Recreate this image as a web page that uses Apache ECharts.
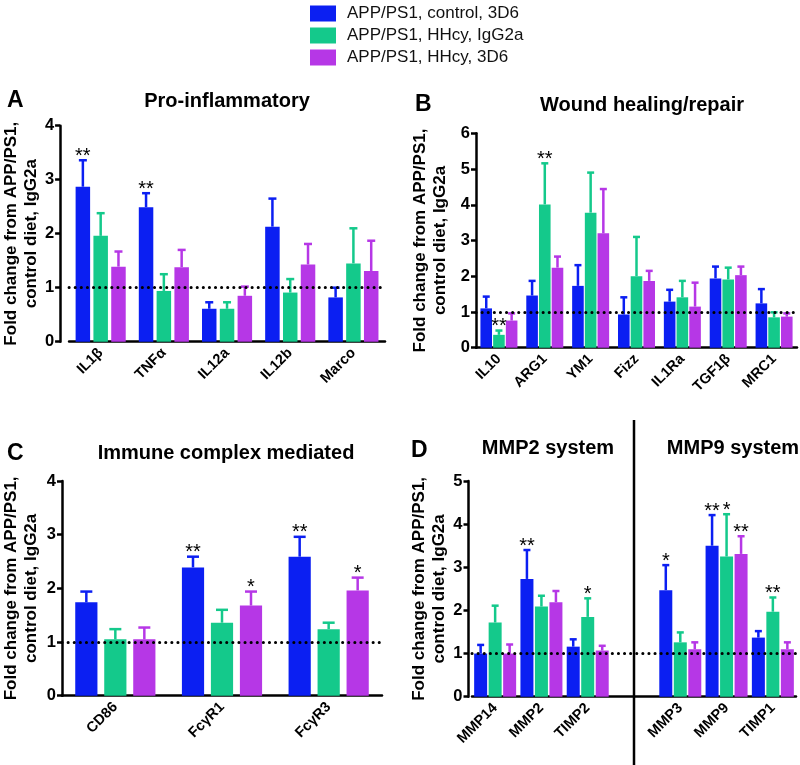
<!DOCTYPE html>
<html>
<head>
<meta charset="utf-8">
<script src="https://cdn.jsdelivr.net/npm/echarts@6/dist/echarts.min.js"></script>
<style>
html,body{margin:0;padding:0;background:#fff;}
#chart{width:800px;height:765px;}
</style>
</head>
<body>
<div id="chart"></div>
<script>
// ---------- DATA ----------
const seriesNames = ['APP/PS1, control, 3D6', 'APP/PS1, HHcy, IgG2a', 'APP/PS1, HHcy, 3D6'];

// Panel A: Pro-inflammatory
const catsA = ['IL1β', 'TNFα', 'IL12a', 'IL12b', 'Marco'];
const ctrl3D6_A = [2.87, 2.49, 0.61, 2.13, 0.82];
const hhcyIgG_A = [1.96, 0.94, 0.61, 0.91, 1.45];
const hhcy3D6_A = [1.39, 1.38, 0.85, 1.43, 1.31];
const semCtrl3D6_A = [0.49, 0.26, 0.12, 0.52, 0.18];
const semHhcyIgG_A = [0.42, 0.31, 0.12, 0.25, 0.65];
const semHhcy3D6_A = [0.28, 0.32, 0.17, 0.38, 0.56];
const sigCtrl3D6_A = ['**', '**', '', '', ''];
const sigHhcyIgG_A = ['', '', '', '', ''];
const sigHhcy3D6_A = ['', '', '', '', ''];

// Panel B: Wound healing/repair
const catsB = ['IL10', 'ARG1', 'YM1', 'Fizz', 'IL1Ra', 'TGF1β', 'MRC1'];
const ctrl3D6_B = [1.10, 1.46, 1.73, 0.93, 1.29, 1.94, 1.24];
const hhcyIgG_B = [0.36, 4.01, 3.78, 2.00, 1.41, 1.91, 0.85];
const hhcy3D6_B = [0.76, 2.24, 3.20, 1.87, 1.15, 2.03, 0.87];
const semCtrl3D6_B = [0.33, 0.41, 0.58, 0.48, 0.33, 0.33, 0.40];
const semHhcyIgG_B = [0.12, 1.15, 1.12, 1.10, 0.46, 0.33, 0.14];
const semHhcy3D6_B = [0.20, 0.31, 1.24, 0.28, 0.67, 0.24, 0.09];
const sigCtrl3D6_B = ['', '', '', '', '', '', ''];
const sigHhcyIgG_B = ['**', '**', '', '', '', '', ''];
const sigHhcy3D6_B = ['', '', '', '', '', '', ''];

// Panel C: Immune complex mediated
const catsC = ['CD86', 'FcγR1', 'FcγR3'];
const ctrl3D6_C = [1.74, 2.39, 2.59];
const hhcyIgG_C = [1.05, 1.36, 1.24];
const hhcy3D6_C = [1.05, 1.68, 1.96];
const semCtrl3D6_C = [0.20, 0.20, 0.37];
const semHhcyIgG_C = [0.19, 0.24, 0.12];
const semHhcy3D6_C = [0.22, 0.26, 0.24];
const sigCtrl3D6_C = ['', '**', '**'];
const sigHhcyIgG_C = ['', '', ''];
const sigHhcy3D6_C = ['', '*', '*'];

// Panel D: MMP2 system | MMP9 system ('' = separator slot)
const catsD = ['MMP14', 'MMP2', 'TIMP2', '', 'MMP3', 'MMP9', 'TIMP1'];
const ctrl3D6_D = [1.00, 2.73, 1.16, null, 2.47, 3.50, 1.37];
const hhcyIgG_D = [1.72, 2.09, 1.85, null, 1.26, 3.25, 1.97];
const hhcy3D6_D = [1.00, 2.19, 1.07, null, 1.10, 3.31, 1.10];
const semCtrl3D6_D = [0.20, 0.67, 0.17, null, 0.58, 0.71, 0.15];
const semHhcyIgG_D = [0.39, 0.25, 0.43, null, 0.23, 0.98, 0.33];
const semHhcy3D6_D = [0.21, 0.26, 0.11, null, 0.16, 0.41, 0.16];
const sigCtrl3D6_D = ['', '**', '', '', '*', '**', ''];
const sigHhcyIgG_D = ['', '', '*', '', '', '*', '**'];
const sigHhcy3D6_D = ['', '', '', '', '', '**', ''];

const yMaxA = 4, yMaxB = 6, yMaxC = 4, yMaxD = 5;
const refLine = 1;

// ---------- STYLE ----------
const COLORS = ['#0b1ff2', '#14c98b', '#b637e6'];
const FONT = '"Liberation Sans", Arial, Helvetica, sans-serif';

const panels = [
  { cats: catsA, means: [ctrl3D6_A, hhcyIgG_A, hhcy3D6_A], sems: [semCtrl3D6_A, semHhcyIgG_A, semHhcy3D6_A],
    sigs: [sigCtrl3D6_A, sigHhcyIgG_A, sigHhcy3D6_A], max: yMaxA,
    grid: { left: 62, right: 415, top: 125.7, height: 216 }, yOffset: 9, nameGap: 12,
    bw: 14.5, gap: 3.3, cap: 8 },
  { cats: catsB, means: [ctrl3D6_B, hhcyIgG_B, hhcy3D6_B], sems: [semCtrl3D6_B, semHhcyIgG_B, semHhcy3D6_B],
    sigs: [sigCtrl3D6_B, sigHhcyIgG_B, sigHhcy3D6_B], max: yMaxB,
    grid: { left: 476, right: 3, top: 133.3, height: 214.4 }, yOffset: 0, nameGap: 26,
    bw: 11.6, gap: 1.1, cap: 7 },
  { cats: catsC, means: [ctrl3D6_C, hhcyIgG_C, hhcy3D6_C], sems: [semCtrl3D6_C, semHhcyIgG_C, semHhcy3D6_C],
    sigs: [sigCtrl3D6_C, sigHhcyIgG_C, sigHhcy3D6_C], max: yMaxC,
    grid: { left: 62, right: 418, top: 481, height: 214.7 }, yOffset: 0, nameGap: 21,
    bw: 22.2, gap: 6.8, cap: 12 },
  { cats: catsD, means: [ctrl3D6_D, hhcyIgG_D, hhcy3D6_D], sems: [semCtrl3D6_D, semHhcyIgG_D, semHhcy3D6_D],
    sigs: [sigCtrl3D6_D, sigHhcyIgG_D, sigHhcy3D6_D], max: yMaxD,
    grid: { left: 472, right: 4, top: 481, height: 215.7 }, yOffset: 3.5, nameGap: 17,
    bw: 13, gap: 1.5, cap: 7 }
];

const grids = [], xAxes = [], yAxes = [], series = [];

panels.forEach((p, pi) => {
  grids.push(Object.assign({ containLabel: false }, p.grid));
  xAxes.push({
    type: 'category', gridIndex: pi, data: p.cats,
    axisLine: { lineStyle: { color: '#000', width: 2.5 } },
    axisTick: { alignWithLabel: true, length: 7, lineStyle: { color: '#000', width: 2.5 },
      interval: (idx, val) => val !== '' },
    axisLabel: { interval: 0, rotate: 45, color: '#000', fontWeight: 'bold', fontSize: 14.5,
      fontFamily: FONT, margin: 9 }
  });
  yAxes.push({
    type: 'value', gridIndex: pi, min: 0, max: p.max, interval: 1, offset: p.yOffset,
    name: 'Fold change from APP/PS1,\ncontrol diet, IgG2a',
    nameLocation: 'middle', nameGap: p.nameGap,
    nameTextStyle: { color: '#000', fontWeight: 'bold', fontSize: 17, fontFamily: FONT, lineHeight: 20 },
    axisLine: { show: true, lineStyle: { color: '#000', width: 2.5 } },
    axisTick: { show: true, length: 5, lineStyle: { color: '#000', width: 2.5 } },
    axisLabel: { color: '#000', fontWeight: 'bold', fontSize: 16.5, fontFamily: FONT, margin: 6 },
    splitLine: { show: false }
  });
  p.means.forEach((arr, k) => {
    const s = {
      name: seriesNames[k], type: 'bar', xAxisIndex: pi, yAxisIndex: pi,
      data: arr.map(v => (v === null ? '-' : v)),
      barWidth: p.bw, barGap: (p.gap / p.bw * 100).toFixed(1) + '%',
      itemStyle: { color: COLORS[k] }, silent: true, animation: false
    };
    if (k === 0) {
      s.markLine = {
        silent: true, symbol: 'none', z: 10, animation: false,
        label: { show: false },
        lineStyle: { color: '#000', width: 3, type: [0.1, 6], cap: 'round' },
        data: [{ yAxis: refLine }]
      };
    }
    series.push(s);
  });
  // error bars + significance marks
  const errData = [];
  p.cats.forEach((c, i) => {
    for (let k = 0; k < 3; k++) {
      if (p.means[k][i] !== null) errData.push([i, k, p.means[k][i], p.sems[k][i]]);
    }
  });
  series.push({
    type: 'custom', xAxisIndex: pi, yAxisIndex: pi, data: errData, silent: true, animation: false, z: 5,
    renderItem: (params, api) => {
      const i = api.value(0), k = api.value(1), m = api.value(2), s = api.value(3);
      const p0 = api.coord([i, m]), p1 = api.coord([i, m + s]);
      const x = p0[0] + (k - 1) * (p.bw + p.gap);
      const col = COLORS[k], half = p.cap / 2;
      const children = [
        { type: 'line', shape: { x1: x, y1: p0[1], x2: x, y2: p1[1] }, style: { stroke: col, lineWidth: 2.5 } },
        { type: 'line', shape: { x1: x - half, y1: p1[1], x2: x + half, y2: p1[1] }, style: { stroke: col, lineWidth: 2.5 } }
      ];
      const sg = p.sigs[k][i];
      if (sg) {
        children.push({ type: 'text', style: { text: sg, x: x, y: p1[1] - 4, align: 'center',
          verticalAlign: 'middle', fontSize: 20, fontFamily: FONT, fill: '#000' } });
      }
      return { type: 'group', children };
    }
  });
});

const titleStyle = { color: '#000', fontWeight: 'bold', fontSize: 20, fontFamily: FONT };
const letterStyle = { color: '#000', fontWeight: 'bold', fontSize: 23, fontFamily: FONT };

const option = {
  animation: false,
  textStyle: { fontFamily: FONT },
  legend: {
    data: seriesNames, orient: 'vertical', left: 305, top: 0,
    itemWidth: 26, itemHeight: 16, itemGap: 5, icon: 'rect', selectedMode: false,
    textStyle: { color: '#111', fontSize: 17, fontFamily: FONT, padding: [0, 0, 0, 6] }
  },
  title: [
    { text: 'A', left: 2, top: 84, textStyle: letterStyle },
    { text: 'Pro-inflammatory', left: 222, top: 86, textAlign: 'center', textStyle: titleStyle },
    { text: 'B', left: 410, top: 88, textStyle: letterStyle },
    { text: 'Wound healing/repair', left: 637, top: 90, textAlign: 'center', textStyle: titleStyle },
    { text: 'C', left: 2, top: 437, textStyle: letterStyle },
    { text: 'Immune complex mediated', left: 221, top: 438, textAlign: 'center', textStyle: titleStyle },
    { text: 'D', left: 406, top: 434, textStyle: letterStyle },
    { text: 'MMP2 system', left: 543, top: 433, textAlign: 'center', textStyle: titleStyle },
    { text: 'MMP9 system', left: 728, top: 433, textAlign: 'center', textStyle: titleStyle }
  ],
  grid: grids, xAxis: xAxes, yAxis: yAxes, series: series
};

const chart = echarts.init(document.getElementById('chart'), null, { renderer: 'canvas' });
chart.setOption(option);

// separator between MMP2 and MMP9 systems, at the empty slot of panel D
const sepIdx = catsD.indexOf('');
const sepX = chart.convertToPixel({ xAxisIndex: 3 }, sepIdx);
chart.setOption({
  graphic: [{ type: 'line', shape: { x1: sepX, y1: 420, x2: sepX, y2: 765 },
    style: { stroke: '#000', lineWidth: 2.5 }, silent: true }]
});
</script>
</body>
</html>
